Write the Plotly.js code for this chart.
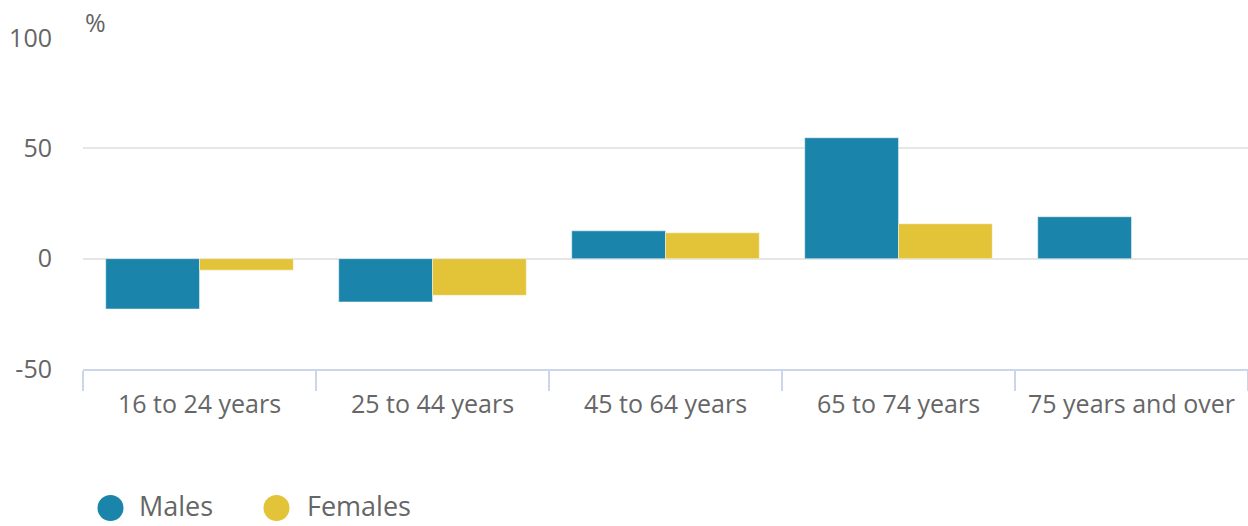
<!DOCTYPE html>
<html>
<head>
<meta charset="utf-8">
<script src="https://cdn.plot.ly/plotly-3.0.1.min.js"></script>
<style>
html,body{margin:0;padding:0;background:#fff;}
#chart{width:1248px;height:526px;}
</style>
</head>
<body>
<div id="chart"></div>
<script>
var categories = ["16 to 24 years", "25 to 44 years", "45 to 64 years", "65 to 74 years", "75 years and over"];
var males = [-22.8, -19.6, 12.6, 54.8, 19.0];
var females = [-5.2, -16.6, 11.7, 15.8, null];
var seriesNames = ["Males", "Females"];
var seriesColors = ["#1b84ab", "#e3c338"];
var yTickVals = [-50, 0, 50, 100];
var yTickText = ["-50", "0", "50", "100"];

var FONT = "Open Sans, sans-serif";
var TXT = "#666666";

var traces = [
  {type: "bar", name: seriesNames[0], x: categories, y: males, showlegend: false,
   marker: {color: seriesColors[0], line: {color: "rgba(255,255,255,0.45)", width: 1}}, hoverinfo: "x+y+name"},
  {type: "bar", name: seriesNames[1], x: categories, y: females, showlegend: false,
   marker: {color: seriesColors[1], line: {color: "rgba(255,255,255,0.45)", width: 1}}, hoverinfo: "x+y+name"}
];

var L = 83, T = 38, B = 157, W = 1248, H = 526;
var plotW = W - L, plotH = H - T - B;
function px2x(p){ return (p - L) / plotW; }
function py2y(p){ return (H - B - p) / plotH; }

var legendCircles = [110.5, 276.5];
var legendTextX = [137, 304.5];
var legendY = 508;

var shapes = [];
var annotations = [{
  text: "%", xref: "paper", yref: "paper", x: 0, y: 1, xanchor: "left", yanchor: "bottom",
  xshift: 0, yshift: -3, showarrow: false, font: {family: FONT, size: 25, color: TXT}
}];
for (var i = 0; i < seriesNames.length; i++) {
  shapes.push({type: "circle", xref: "paper", yref: "paper", xsizemode: "pixel", ysizemode: "pixel",
    xanchor: px2x(legendCircles[i]), yanchor: py2y(legendY), x0: -13, x1: 13, y0: -13, y1: 13,
    fillcolor: seriesColors[i], line: {width: 0}});
  annotations.push({text: seriesNames[i], xref: "paper", yref: "paper", x: px2x(legendTextX[i]), y: py2y(526),
    xanchor: "left", yanchor: "bottom", showarrow: false, font: {family: FONT, size: 27, color: TXT}});
}

var layout = {
  width: W, height: H,
  margin: {l: L, r: 0, t: T, b: B, pad: 0},
  paper_bgcolor: "#ffffff", plot_bgcolor: "#ffffff",
  font: {family: FONT, color: TXT, size: 25},
  bargap: 0.195, bargroupgap: 0, barmode: "group",
  showlegend: false,
  xaxis: {
    type: "category", tickson: "boundaries", ticks: "outside", ticklen: 20, tickwidth: 2, tickcolor: "#ccd6eb",
    showline: true, linecolor: "#ccd6eb", linewidth: 2, showgrid: false, zeroline: false,
    tickfont: {family: FONT, size: 25, color: TXT}, range: [-0.5, 4.5], fixedrange: true,
    ticklabelstandoff: 12
  },
  yaxis: {
    range: [-50, 100], tickvals: yTickVals, ticktext: yTickText, showgrid: true, gridcolor: "#e6e6e6", gridwidth: 2,
    zeroline: false, showline: false, ticks: "", tickfont: {family: FONT, size: 25, color: TXT},
    ticklabelstandoff: 30, fixedrange: true
  },
  shapes: shapes,
  annotations: annotations
};

Plotly.newPlot("chart", traces, layout, {displayModeBar: false, staticPlot: true});
</script>
</body>
</html>
